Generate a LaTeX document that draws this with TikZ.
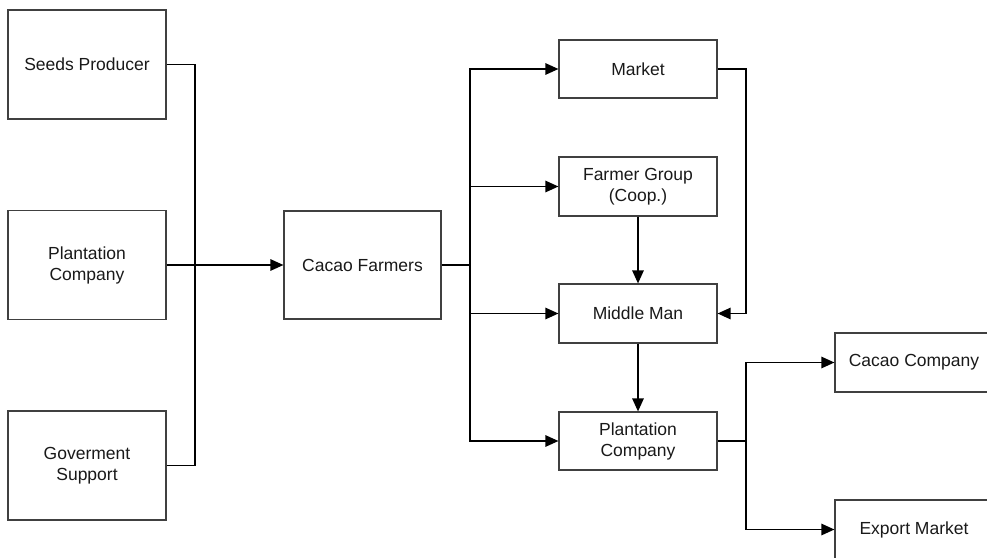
\documentclass[tikz,border=0pt]{standalone}
\usepackage{fontspec}
\setmainfont{Liberation Sans}
\usetikzlibrary{arrows.meta}
\begin{document}
\begin{tikzpicture}[x=1pt,y=-1pt,
  box/.style={draw=black!75,line width=1.2pt,inner sep=0pt,align=center,
    font=\fontsize{17.5}{21}\selectfont,text=black!90},
  bigbox/.style={box,minimum width=158pt,minimum height=109pt},
  smallbox/.style={box,minimum width=158pt,minimum height=58pt},
  conn/.style={line width=1.3pt,black},
  arr/.style={conn,-{Triangle[length=13pt,width=11.5pt]}}]
\useasboundingbox (0,0) rectangle (987,557);
\clip (0,0) rectangle (987,557);
\node[bigbox] (seeds) at (87,64.5) {Seeds Producer};
\node[bigbox] (plant) at (87,265) {Plantation\\Company};
\node[bigbox] (gov) at (87,465.5) {Goverment\\Support};
\node[bigbox,minimum width=157pt,minimum height=108pt] (farm) at (362.5,265) {Cacao Farmers};
\node[smallbox] (market) at (638,69) {Market};
\node[smallbox,minimum height=59pt] (fg) at (638,186.5) {Farmer Group\\(Coop.)};
\node[smallbox,minimum height=59pt] (mm) at (638,313.5) {Middle Man};
\node[smallbox] (pc) at (638,441) {Plantation\\Company};
\node[smallbox,minimum height=59pt] (cc) at (914,362.5) {Cacao Company};
\node[smallbox,minimum height=59pt] (em) at (914,529.5) {Export Market};
\coordinate (jl) at (195,265);
\coordinate (jr) at (470,265);
\coordinate (mr) at (746,69);
\coordinate (jp) at (746,441);
\draw[conn] (seeds.east) -| (jl);
\draw[conn] (gov.east) -| (jl);
\draw[arr] (plant.east) -- (farm.west);
\draw[conn] (farm.east) -- (jr);
\draw[arr] (jr) |- (market.west);
\draw[arr] (jr) |- (fg.west);
\draw[arr] (jr) |- (mm.west);
\draw[arr] (jr) |- (pc.west);
\draw[arr] (market.east) -- (mr) |- (mm.east);
\draw[arr] (fg.south) -- (mm.north);
\draw[arr] (mm.south) -- (pc.north);
\draw[conn] (pc.east) -- (jp);
\draw[arr] (jp) |- (cc.west);
\draw[arr] (jp) |- (em.west);
\end{tikzpicture}
\end{document}
